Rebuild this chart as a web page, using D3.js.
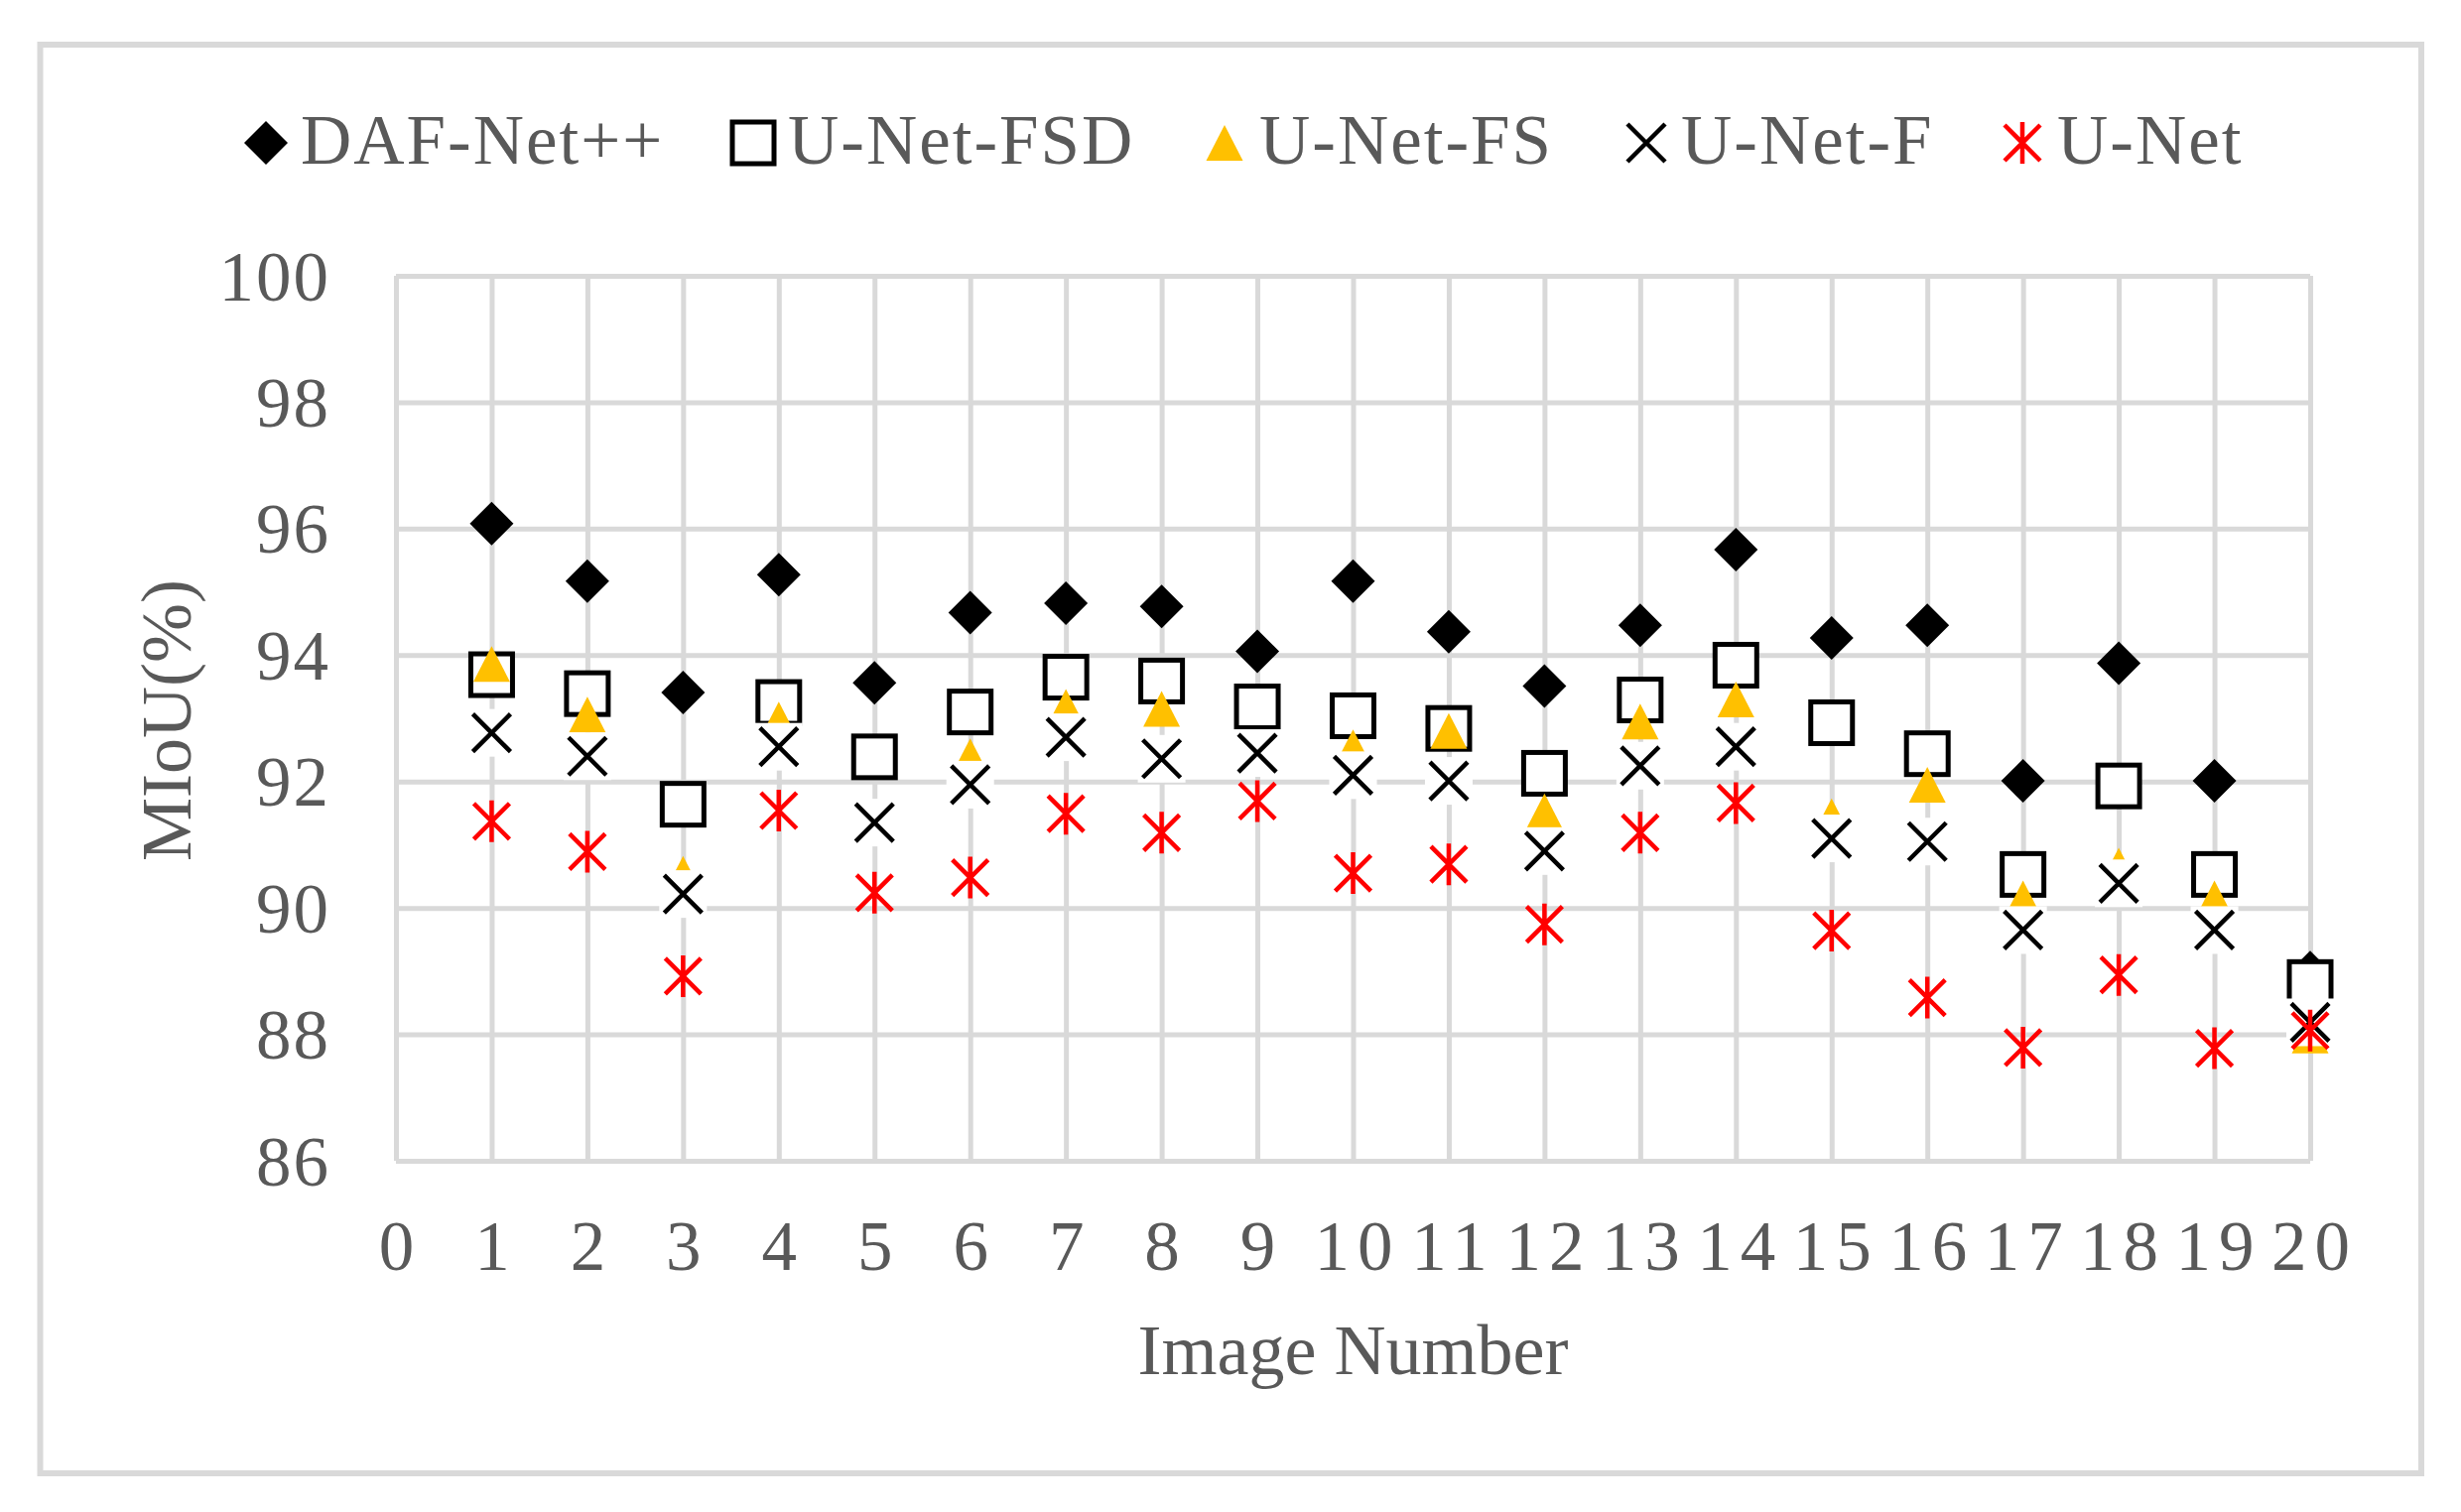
<!DOCTYPE html>
<html lang="en">
<head>
    <meta charset="UTF-8">
    <title>MIoU per Image</title>
    <style>
        body {
            margin: 0;
            background: #ffffff;
        }

        text {
            font-family: "Liberation Serif", "Times New Roman", serif;
            fill: #595959;
        }
    </style>
</head>
<body>
<script src="https://d3js.org/d3.v7.min.js"></script>
<script>
    // Data
    const imageNumbers = d3.range(1, 21);
    const seriesNames = ["DAF-Net++", "U-Net-FSD", "U-Net-FS", "U-Net-F", "U-Net"];

    const dafNet = [96.08, 95.17, 93.41, 95.27, 93.56, 94.67, 94.82, 94.77, 94.06, 95.17,
        94.37, 93.51, 94.47, 95.67, 94.27, 94.47, 92.01, 93.87, 92.01, 88.98];
    const uNetFSD = [93.69, 93.39, 91.64, 93.25, 92.39, 93.10, 93.65, 93.59, 93.18, 93.04,
        92.84, 92.13, 93.29, 93.84, 92.93, 92.44, 90.53, 91.93, 90.53, 88.82];
    const uNetFS = [93.86, 93.06, 90.54, 92.98, 91.35, 92.40, 93.18, 93.15, 92.45, 92.54,
        92.80, 91.53, 92.95, 93.30, 91.45, 91.95, 90.15, 90.67, 90.15, 87.98];
    const uNetF = [92.77, 92.40, 90.22, 92.55, 91.35, 91.95, 92.70, 92.36, 92.45, 92.10,
        92.01, 90.90, 92.25, 92.55, 91.10, 91.05, 89.65, 90.39, 89.65, 88.19];
    const uNet = [91.37, 90.89, 88.92, 91.54, 90.24, 90.48, 91.49, 91.19, 91.69, 90.55,
        90.69, 89.74, 91.19, 91.66, 89.64, 88.58, 87.79, 88.94, 87.78, 88.06];

    const xTicks = d3.range(0, 21);
    const yTicks = [86, 88, 90, 92, 94, 96, 98, 100];

    // Chart dimensions
    const width = 2480;
    const height = 1524;
    const plot = {left: 399, right: 2328, top: 278, bottom: 1170};
    const gridColor = "#d9d9d9";

    const svg = d3.select("body")
        .append("svg")
        .attr("width", width)
        .attr("height", height);

    // Outer frame
    svg.append("rect")
        .attr("x", 40.5)
        .attr("y", 45)
        .attr("width", 2399.5)
        .attr("height", 1440)
        .attr("fill", "#ffffff")
        .attr("stroke", gridColor)
        .attr("stroke-width", 6);

    // Scales
    const xScale = d3.scaleLinear()
        .domain([0, 20])
        .range([plot.left, plot.right]);

    const yScale = d3.scaleLinear()
        .domain([86, 100])
        .range([plot.bottom, plot.top]);

    // Gridlines drawn through the axes
    const xAxis = d3.axisBottom(xScale)
        .tickValues(xTicks)
        .tickSize(-(plot.bottom - plot.top))
        .tickFormat(d3.format("d"));

    const yAxis = d3.axisLeft(yScale)
        .tickValues(yTicks)
        .tickSize(-(plot.right - plot.left))
        .tickFormat(d3.format("d"));

    const gx = svg.append("g")
        .attr("transform", "translate(0," + plot.bottom + ")")
        .call(xAxis);

    const gy = svg.append("g")
        .attr("transform", "translate(" + plot.left + ",0)")
        .call(yAxis);

    [gx, gy].forEach(g => {
        g.select(".domain").remove();
        g.selectAll(".tick line")
            .attr("stroke", gridColor)
            .attr("stroke-width", 5);
        g.selectAll(".tick text")
            .attr("fill", "#595959")
            .style("font-family", "'Liberation Serif', 'Times New Roman', serif")
            .style("font-size", "71px");
    });

    gx.selectAll(".tick text")
        .attr("y", 110)
        .attr("dy", 0)
        .attr("dx", 4)
        .style("letter-spacing", "8px");

    gy.selectAll(".tick text")
        .attr("x", -66)
        .attr("dy", 24)
        .style("letter-spacing", "2px");

    // Axis titles
    svg.append("text")
        .attr("x", (plot.left + plot.right) / 2)
        .attr("y", 1385)
        .attr("text-anchor", "middle")
        .style("font-size", "72px")
        .text("Image Number");

    svg.append("text")
        .attr("transform", "translate(192," + ((plot.top + plot.bottom) / 2 + 2) + ") rotate(-90)")
        .attr("text-anchor", "middle")
        .style("font-size", "72px")
        .text("MIoU(%)");

    // Marker drawing helpers
    const markers = {
        diamond: g => g.append("path")
            .attr("d", "M0,-22L22,0L0,22L-22,0Z")
            .attr("fill", "#000000"),
        square: g => g.append("rect")
            .attr("x", -21).attr("y", -21)
            .attr("width", 42).attr("height", 42)
            .attr("fill", "#ffffff")
            .attr("stroke", "#000000")
            .attr("stroke-width", 5),
        triangle: g => g.append("path")
            .attr("d", "M0,-18L18.5,18L-18.5,18Z")
            .attr("fill", "#FFC000"),
        cross: g => {
            g.append("rect")
                .attr("x", -24).attr("y", -24)
                .attr("width", 48).attr("height", 48)
                .attr("fill", "#ffffff");
            g.append("path")
                .attr("d", "M-19,-19L19,19M19,-19L-19,19")
                .attr("stroke", "#000000")
                .attr("stroke-width", 4.5)
                .attr("fill", "none");
        },
        star: g => g.append("path")
            .attr("d", "M-18,-18L18,18M18,-18L-18,18M0,-21L0,21")
            .attr("stroke", "#FF0000")
            .attr("stroke-width", 4.5)
            .attr("fill", "none")
    };

    const series = [
        {name: seriesNames[0], values: dafNet, marker: "diamond"},
        {name: seriesNames[1], values: uNetFSD, marker: "square"},
        {name: seriesNames[2], values: uNetFS, marker: "triangle"},
        {name: seriesNames[3], values: uNetF, marker: "cross"},
        {name: seriesNames[4], values: uNet, marker: "star"}
    ];

    // Points, one series after another
    series.forEach(s => {
        svg.append("g")
            .selectAll("g")
            .data(imageNumbers.map((n, i) => [n, s.values[i]]))
            .enter()
            .append("g")
            .attr("transform", d => "translate(" + xScale(d[0]) + "," + yScale(d[1]) + ")")
            .each(function () {
                markers[s.marker](d3.select(this));
            });
    });

    // Legend
    const legendMarkerX = [268, 759, 1234, 1659, 2038];
    const legendY = 144;

    const legend = svg.append("g")
        .selectAll("g")
        .data(series)
        .enter()
        .append("g")
        .attr("transform", (d, i) => "translate(" + legendMarkerX[i] + "," + legendY + ")");

    legend.each(function (d) {
        markers[d.marker](d3.select(this));
    });

    legend.append("text")
        .attr("x", 35)
        .attr("y", 21)
        .style("font-size", "71px")
        .style("letter-spacing", "2px")
        .text(d => d.name);
</script>
</body>
</html>
